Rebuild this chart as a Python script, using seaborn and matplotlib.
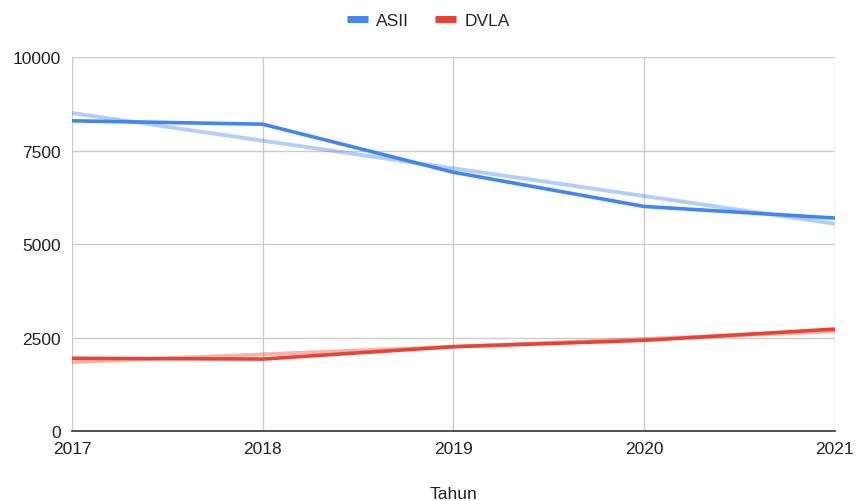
import numpy as np
import pandas as pd
import matplotlib
matplotlib.use("Agg")
import matplotlib.pyplot as plt
import seaborn as sns
from matplotlib.lines import Line2D

# Data
years = [2017, 2018, 2019, 2020, 2021]
asii = [8300, 8210, 6925, 6010, 5700]
dvla = [1950, 1930, 2260, 2430, 2730]

series_names = ["ASII", "DVLA"]
palette = {"ASII": "#4285F4", "DVLA": "#EA4335"}

data = pd.concat([
    pd.DataFrame({"Tahun": years, "Nilai": asii, "Seri": "ASII"}),
    pd.DataFrame({"Tahun": years, "Nilai": dvla, "Seri": "DVLA"}),
], ignore_index=True)

sns.set_theme(style="white")
plt.rcParams["font.family"] = ["Liberation Sans", "DejaVu Sans"]
fontsize = 12.5

fig, ax = plt.subplots(figsize=(8.57, 5.02), dpi=100)
fig.subplots_adjust(left=0.084, right=0.974, top=0.884, bottom=0.139)

# trendlines (linear fit, lighter colour)
for name in series_names:
    sub = data[data["Seri"] == name]
    sns.regplot(data=sub, x="Tahun", y="Nilai", ax=ax, scatter=False, ci=None,
                truncate=True, color=palette[name],
                line_kws={"alpha": 0.4, "linewidth": 2.8, "zorder": 2})

sns.lineplot(data=data, x="Tahun", y="Nilai", hue="Seri", palette=palette,
             linewidth=2.6, ax=ax, legend=False, zorder=3)

ax.set_xlim(2017, 2021)
ax.set_ylim(0, 10000)
ax.set_xticks(years)
ax.set_yticks([0, 2500, 5000, 7500, 10000])
ax.set_xticklabels([str(y) for y in years])
ax.grid(True, color="#cccccc", linewidth=1)
ax.set_axisbelow(True)
for side in ["left", "right", "top"]:
    ax.spines[side].set_visible(False)
ax.spines["bottom"].set_color("#333333")
ax.spines["bottom"].set_linewidth(1.2)
ax.tick_params(axis="both", length=0, labelsize=fontsize, colors="#222222")
ax.tick_params(axis="x", pad=7)
ax.tick_params(axis="y", pad=8)
ax.set_ylabel("")
ax.set_xlabel("Tahun", fontsize=fontsize, color="#222222", labelpad=22)

handles = [Line2D([0], [0], color=palette[n], linewidth=5, solid_capstyle="butt")
           for n in series_names]
fig.legend(handles, series_names, loc="center", bbox_to_anchor=(0.5, 0.958),
           ncol=2, frameon=False, fontsize=fontsize, handlelength=1.2,
           handletextpad=0.5, columnspacing=1.5)

fig.savefig("out.png", dpi=100)
